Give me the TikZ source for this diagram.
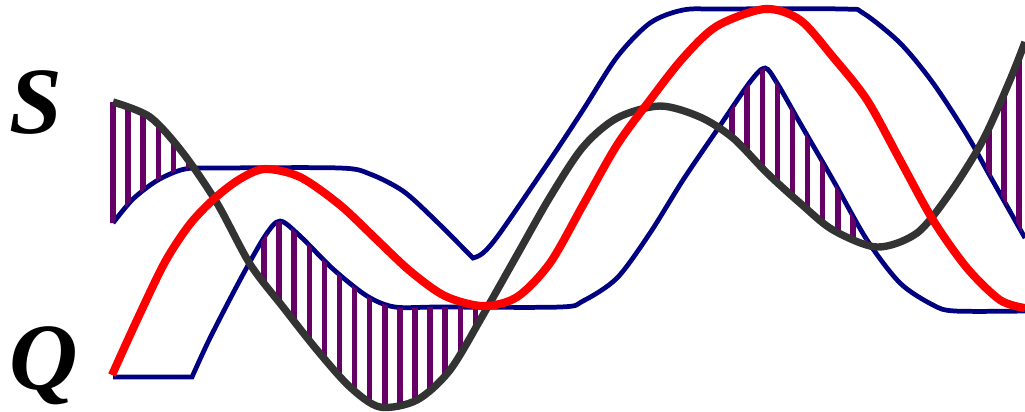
\documentclass[tikz,border=0pt]{standalone}
\usepackage{fontspec}
\setmainfont{Liberation Serif}

\begin{document}
\begin{tikzpicture}[x=0.01cm,y=-0.01cm]
	\def\curveS{plot[smooth] coordinates {(113,223) (133,199) (158,180) (185,169) (220,168) (340,168) (370,174) (403,191) (433,218) (473,258)}
		-- plot[smooth] coordinates {(473,258) (483,253) (500,233) (550,160) (583,110) (617,57) (650,23) (683,10) (720,9) (843,9) (863,13) (900,43) (933,83) (967,135) (990,176) (1025,238)}} %upper bound
	\def\curveQ{(113,377) -- (192,377) -- plot[smooth] coordinates {(192,377) (210,338) (240,280) (265,236) (280,221) (300,236) (333,269) (367,296) (395,307) (440,307) (560,307) (583,301) (617,278) (650,233) (683,180) (717,130) (750,82) (765,68) (777,83) (800,123) (833,180) (867,240) (900,283) (933,305) (955,311) (1025,311)}} %lower bound
	\def\curveG{plot[smooth] coordinates {(113,102) (150,117) (183,153) (217,203) (250,264) (283,307) (317,350) (350,387) (380,407) (417,400) (450,370) (483,315) (517,255) (550,197) (583,147) (617,118) (660,106) (700,117) (733,138) (767,173) (800,203) (833,230) (877,247) (917,233) (950,193) (983,140) (1010,80) (1025,42)}} %signal
	\def\curveR{plot[smooth] coordinates {(112,375) (137,320) (165,262) (190,224) (215,198) (240,179) (265,169) (300,177) (340,205) (375,238) (410,271) (445,296) (483,306) (517,297) (550,263) (583,205) (617,145) (650,100) (683,58) (717,26) (765,9) (800,20) (833,57) (867,100) (900,160) (933,220) (967,268) (1000,300) (1025,308)}} %center

	\colorlet{bound edge}{blue!50!black}
	\colorlet{center line}{red}
	\colorlet{signal line}{black!80}
	\definecolor{hatch area}{RGB}{102,0,102}

	\tikzset{
		bound/.style={draw=bound edge, line width=1.35pt},
		center/.style={draw=center line, line width=2.3pt},
		signal/.style={draw=signal line, line width=2.1pt},
		hatching/.style={draw=hatch area, line width=1.55pt},
		letter/.style={font=\fontsize{27}{27}\selectfont\bfseries\itshape, inner sep=0pt},
	}

	\useasboundingbox (0,0) rectangle (1025,411);

	\draw[bound] \curveS;
	\draw[bound] \curveQ;

	\begin{scope}
			\clip \curveG -- (1030,42) -- (1030,420) -- (105,420) -- (105,102) -- cycle;
			\clip \curveS -- (1030,238) -- (1030,-10) -- (105,-10) -- (105,223) -- cycle;
				\foreach \k in {0,...,60}
					\draw[hatching] ({113+15.1*\k},-10) -- ({113+15.1*\k},420);
	\end{scope}
	\begin{scope}
			\clip \curveQ -- (1030,311) -- (1030,420) -- (105,420) -- cycle;
			\clip \curveG -- (1030,42) -- (1030,-10) -- (105,-10) -- (105,102) -- cycle;
				\foreach \k in {10,...,60}
					\draw[hatching] ({113+15.1*\k},-10) -- ({113+15.1*\k},420);
	\end{scope}

	\draw[signal] \curveG;
	\draw[center] \curveR;

	\node[letter] (S) at (36,103) {S};
	\node[letter] (Q) at (44,366) {Q};
\end{tikzpicture}
\end{document}
